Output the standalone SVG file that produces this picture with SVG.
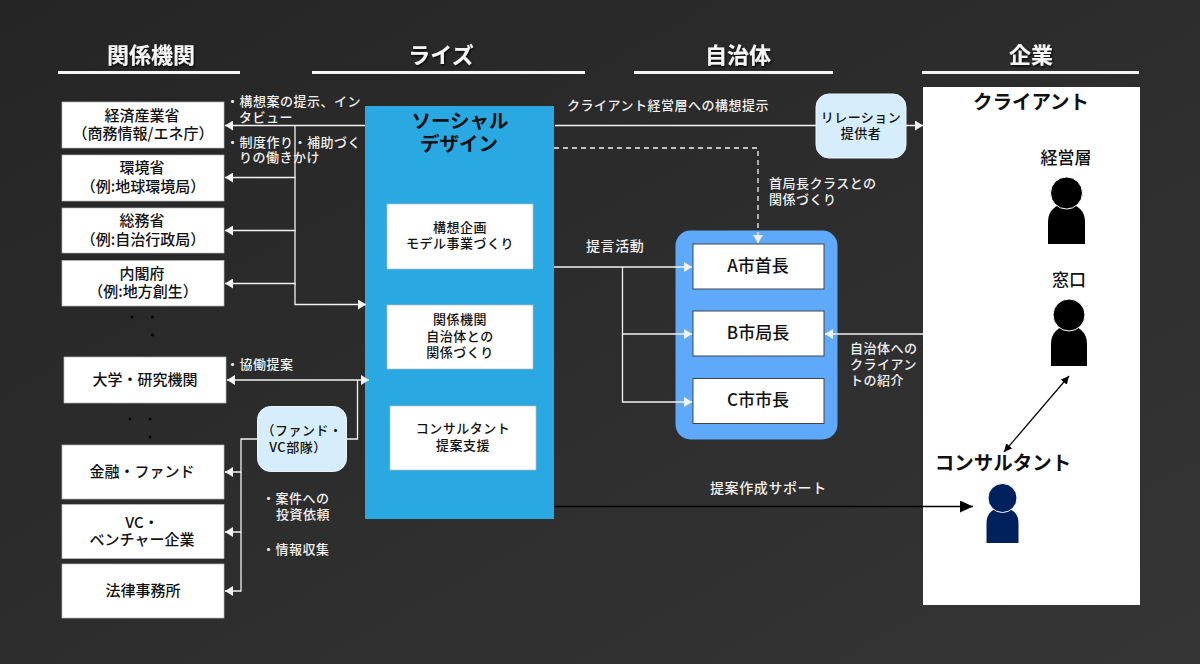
<svg xmlns="http://www.w3.org/2000/svg" width="1200" height="664" viewBox="0 0 1200 664">
<defs>
<linearGradient id="bg" x1="0" y1="0" x2="1" y2="1"><stop offset="0" stop-color="#252525"/><stop offset="1" stop-color="#353535"/></linearGradient>
<filter id="sh" x="-10%" y="-20%" width="120%" height="150%"><feDropShadow dx="1" dy="1.500" stdDeviation="1" flood-color="#000" flood-opacity=".8"/></filter>
<marker id="aw" markerUnits="userSpaceOnUse" markerWidth="9" markerHeight="10" refX="8" refY="5" orient="auto-start-reverse"><path d="M0 0L8 5L0 10z" fill="#f2f2f2"/></marker>
<marker id="ak" markerUnits="userSpaceOnUse" markerWidth="14" markerHeight="14" refX="13" refY="6" orient="auto"><path d="M0 0L13 6L0 12z" fill="#000"/></marker>
<marker id="ad" markerUnits="userSpaceOnUse" markerWidth="9" markerHeight="9" refX="8" refY="4" orient="auto-start-reverse"><path d="M0 0L8 4L0 8z" fill="#000"/></marker>
</defs>
<style>
text{font-family:"Noto Sans CJK JP","Liberation Sans",sans-serif;font-weight:500;text-anchor:middle}
.h{font-size:22px;fill:#f5f5f5;filter:url(#sh);font-weight:700}
.n{font-size:15px;fill:#111}
.w{font-size:13px;fill:#f0f0f0;text-anchor:start;letter-spacing:.5px}
.w2{font-size:14px;fill:#f0f0f0;text-anchor:start;letter-spacing:.6px}
.b{fill:#fff;stroke:#bbb;stroke-width:.7}
.l{fill:none;stroke:#f2f2f2;stroke-width:1.3}
.u{stroke:#f5f5f5;stroke-width:3}
.c{fill:#d6eefb;stroke:#e8f4fb;stroke-width:1}
.p{font-size:13px;fill:#111;letter-spacing:.5px}
.t{font-size:19.500px;fill:#111;font-weight:700}
.m{font-size:17px;fill:#111}
.s{font-size:17px;fill:#111;font-weight:700}
.ph{stroke:#fff;stroke-width:1}
</style>
<rect width="1200" height="664" fill="url(#bg)"/>
<g id="headers">
<text class="h" x="151" y="63">関係機関</text><line class="u" x1="58" y1="72.500" x2="240" y2="72.500"/>
<text class="h" x="441" y="63">ライズ</text><line class="u" x1="312" y1="72.500" x2="585" y2="72.500"/>
<text class="h" x="738" y="63">自治体</text><line class="u" x1="634" y1="72.500" x2="833" y2="72.500"/>
<text class="h" x="1031" y="63">企業</text><line class="u" x1="922" y1="72.500" x2="1139" y2="72.500"/>
</g>
<g id="social-design"><rect x="365" y="106" width="189" height="413" fill="#29a8e2"/>
<text class="t" x="460" y="128">ソーシャル</text><text class="t" x="459" y="151">デザイン</text></g>
<g id="client"><rect x="923" y="87" width="217" height="518" fill="#fff"/>
<text class="t" x="1031" y="109">クライアント</text></g>
<g id="city-group"><rect x="675.500" y="230.500" width="162" height="209" rx="15" fill="#5fa9fb"/></g>
<g id="connectors">
<path class="l" d="M365 125.500H225" marker-end="url(#aw)"/>
<path class="l" d="M295 125.500V177.500H225" marker-end="url(#aw)"/>
<path class="l" d="M295 177V230.500H225" marker-end="url(#aw)"/>
<path class="l" d="M295 230V283.500H225" marker-end="url(#aw)"/>
<path class="l" d="M295 283V304.500H366" marker-end="url(#aw)"/>
<path class="l" d="M555 125.500H923" marker-end="url(#aw)"/>
<path class="l" stroke-dasharray="5 4" d="M554 148H758V243" marker-end="url(#aw)"/>
<path class="l" d="M554 267H692" marker-end="url(#aw)"/>
<path class="l" d="M622.500 267V334H692" marker-end="url(#aw)"/>
<path class="l" d="M622.500 334V402H692" marker-end="url(#aw)"/>
<path class="l" d="M923 334H825" marker-end="url(#aw)"/>
<path class="l" d="M227 380H369" stroke-width="1.500" marker-start="url(#aw)" marker-end="url(#aw)"/>
<path class="l" d="M346 439H357.500V380"/>
<path class="l" d="M258 439H241V472H225" marker-end="url(#aw)"/>
<path class="l" d="M241 472V532H225" marker-end="url(#aw)"/>
<path class="l" d="M241 532V591H225" marker-end="url(#aw)"/>
<path d="M554 506.500H973" fill="none" stroke="#000" stroke-width="1.500" marker-end="url(#ak)"/>
<path d="M1004 452L1069 376" fill="none" stroke="#000" stroke-width="1.200" marker-start="url(#ad)" marker-end="url(#ad)"/>
</g>
<g id="n-meti"><rect class="b" x="62" y="102" width="162" height="46"/><text class="n" x="142" y="121">経済産業省</text><text class="n" x="143" y="139">（商務情報/エネ庁）</text></g>
<g id="n-env"><rect class="b" x="62" y="155" width="162" height="46"/><text class="n" x="142" y="173">環境省</text><text class="n" x="143" y="192">（例:地球環境局）</text></g>
<g id="n-soumu"><rect class="b" x="62" y="208" width="162" height="45"/><text class="n" x="142" y="226">総務省</text><text class="n" x="143" y="245">（例:自治行政局）</text></g>
<g id="n-cao"><rect class="b" x="62" y="260.500" width="162" height="45.500"/><text class="n" x="142" y="279">内閣府</text><text class="n" x="143" y="297">（例:地方創生）</text></g>
<g id="n-univ"><rect class="b" x="64" y="357" width="162" height="46"/><text class="n" x="145" y="385">大学・研究機関</text></g>
<g id="n-fund"><rect class="b" x="62" y="445" width="162" height="54"/><text class="n" x="142" y="477">金融・ファンド</text></g>
<g id="n-vc"><rect class="b" x="62" y="504.500" width="162" height="54"/><text class="n" x="142" y="528">VC・</text><text class="n" x="142" y="545">ベンチャー企業</text></g>
<g id="n-law"><rect class="b" x="62" y="564" width="162" height="54"/><text class="n" x="143" y="596">法律事務所</text></g>
<g id="dots" fill="#000"><circle cx="132" cy="317" r="1.500"/><circle cx="152.500" cy="317" r="1.500"/><circle cx="152.500" cy="335" r="1.500"/><circle cx="130" cy="419" r="1.500"/><circle cx="150" cy="419" r="1.500"/><circle cx="150" cy="437" r="1.500"/></g>
<g id="n-vcteam"><rect class="c" x="257.500" y="406.500" width="89" height="65" rx="13"/><text class="p" x="302" y="435">（ファンド・</text><text class="p" x="298" y="452">VC部隊）</text></g>
<g id="n-relation"><rect class="c" x="816" y="94" width="90" height="64" rx="13"/><text class="p" x="861" y="122">リレーション</text><text class="p" x="861" y="138">提供者</text></g>
<g id="n-plan"><rect class="b" x="387" y="204" width="146" height="65"/><text class="p" x="460" y="232">構想企画</text><text class="p" x="460" y="248">モデル事業づくり</text></g>
<g id="n-rel"><rect class="b" x="387" y="305" width="146" height="64"/><text class="p" x="460" y="324">関係機関</text><text class="p" x="460" y="341">自治体との</text><text class="p" x="460" y="357">関係づくり</text></g>
<g id="n-consult"><rect class="b" x="390" y="406" width="146" height="64"/><text class="p" x="463" y="433">コンサルタント</text><text class="p" x="463" y="450">提案支援</text></g>
<g id="n-a"><rect x="693" y="244" width="131" height="45" fill="#fff" stroke="#444"/><text class="m" x="758" y="272">A市首長</text></g>
<g id="n-b"><rect x="693" y="311" width="131" height="45" fill="#fff" stroke="#444"/><text class="m" x="758" y="339">B市局長</text></g>
<g id="n-c"><rect x="693" y="378.500" width="131" height="45" fill="#fff" stroke="#444"/><text class="m" x="758" y="406">C市市長</text></g>
<g id="p-exec"><text class="m" x="1066" y="164">経営層</text><path d="M1048 244V222C1048 211 1055 204 1066.500 204C1078 204 1085 211 1085 222V244Z" fill="#000"/><circle class="ph" cx="1066.500" cy="193" r="16" fill="#000"/></g>
<g id="p-window"><text class="m" x="1069" y="286">窓口</text><path d="M1051 366V344C1051 333 1058 326 1069 326C1080 326 1087 333 1087 344V366Z" fill="#000"/><circle class="ph" cx="1069" cy="315" r="16" fill="#000"/></g>
<g id="p-consult"><text class="t" x="1003" y="470">コンサルタント</text><path d="M986.500 543V523C986.500 513 993 508 1002.500 508C1012 508 1018.500 513 1018.500 523V543Z" fill="#00215c"/><circle class="ph" cx="1002.500" cy="498" r="14.500" fill="#00215c"/></g>
<g id="labels">
<text class="w" x="226" y="106">・構想案の提示、イン</text><text class="w" x="239" y="122">タビュー</text>
<text class="w" x="226" y="147">・制度作り・補助づく</text><text class="w" x="239" y="162">りの働きかけ</text>
<text class="w" x="226" y="369">・協働提案</text>
<text class="w" x="262" y="503">・案件への</text><text class="w" x="276" y="519">投資依頼</text><text class="w" x="262" y="554">・情報収集</text>
<text class="w" x="567" y="110">クライアント経営層への構想提示</text>
<text class="w" x="769" y="188">首局長クラスとの</text><text class="w" x="769" y="204">関係づくり</text>
<text class="w2" x="586" y="251">提言活動</text>
<text class="w" x="850" y="353">自治体への</text><text class="w" x="850" y="369">クライアン</text><text class="w" x="850" y="385">トの紹介</text>
<text class="w2" x="710" y="493">提案作成サポート</text>
</g>
</svg>
